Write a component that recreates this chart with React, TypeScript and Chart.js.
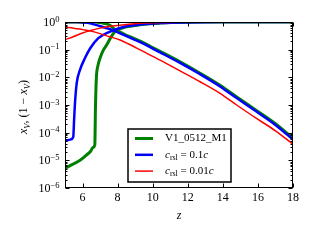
import React, { useEffect, useRef } from 'react';
import { Chart, registerables } from 'chart.js';

Chart.register(...registerables);

// ---------- data ----------
const xTickValues = [6, 8, 10, 12, 14, 16, 18];
const yMajorExponents = [-6, -5, -4, -3, -2, -1, 0];

const seriesLabels = ['V1_0512_M1', 'c_rsl = 0.1c', 'c_rsl = 0.01c'];
const seriesColors = ['#008000', '#0000ff', '#ff0000'];

// V1_0512_M1 : x_V (rising) and 1 - x_V (falling)
const greenRiseZ = [5.0, 5.4, 5.86, 6.2, 6.45, 6.6, 6.7, 6.74, 6.79, 6.87, 7.0, 7.2, 7.38, 7.6, 7.9, 8.14, 8.5, 8.8, 9.28, 9.85, 10.42, 11.0, 12.0, 13.0, 14.0, 16.0, 18.0];
const greenRise = [5.0e-6, 7.0e-6, 1.0e-5, 1.5e-5, 2.1e-5, 2.9e-5, 3.6e-5, 1.0e-3, 1.0e-2, 0.025, 0.05, 0.1, 0.15, 0.27, 0.5, 0.57, 0.67, 0.72, 0.8, 0.867, 0.913, 0.95, 0.98, 0.993, 0.997, 0.999, 1.0];
const greenFallZ = [5.0, 6.0, 6.7, 6.79, 6.87, 7.0, 7.2, 7.38, 7.6, 7.9, 8.14, 8.5, 8.8, 9.28, 9.85, 10.42, 11.56, 12.7, 13.84, 14.79, 15.83, 17.0, 18.0];
const greenFall = [1.0, 1.0, 1.0, 0.99, 0.975, 0.95, 0.9, 0.85, 0.73, 0.5, 0.43, 0.33, 0.28, 0.204, 0.133, 0.087, 0.0363, 0.0141, 0.00513, 0.00195, 0.00069, 0.000209, 0.0000617];

// c_rsl = 0.1c
const blueRiseZ = [5.0, 5.3, 5.47, 5.52, 5.57, 5.67, 5.86, 6.14, 6.43, 6.9, 7.57, 8.14, 8.7, 9.28, 10.42, 11.56, 12.7, 14.0, 16.0, 18.0];
const blueRise = [5.0e-5, 5.6e-5, 7.0e-5, 3.0e-4, 1.2e-3, 6.3e-3, 0.019, 0.05, 0.11, 0.26, 0.45, 0.61, 0.73, 0.814, 0.92, 0.967, 0.987, 0.996, 0.999, 1.0];
const blueFallZ = [5.0, 5.5, 5.67, 5.86, 6.14, 6.43, 6.9, 7.57, 8.14, 8.7, 9.28, 10.42, 11.56, 12.7, 13.84, 14.79, 15.83, 17.0, 18.0];
const blueFall = [1.0, 0.9999, 0.994, 0.981, 0.95, 0.89, 0.74, 0.55, 0.39, 0.27, 0.186, 0.0794, 0.0331, 0.0129, 0.00468, 0.00178, 0.00063, 0.000191, 0.0000562];

// c_rsl = 0.01c
const redRiseZ = [5.0, 5.5, 6.0, 6.4, 7.0, 7.5, 8.14, 8.8, 9.28, 10.42, 11.56, 12.7, 14.0, 16.0, 18.0];
const redRise = [0.23, 0.3, 0.4, 0.48, 0.6, 0.69, 0.77, 0.85, 0.9, 0.958, 0.983, 0.993, 0.997, 0.9996, 1.0];
const redFallZ = [5.0, 5.5, 6.0, 6.4, 7.0, 7.5, 8.14, 8.8, 9.28, 10.42, 11.56, 12.7, 13.84, 14.79, 15.83, 17.0, 18.0];
const redFall = [0.65, 0.6, 0.53, 0.48, 0.38, 0.3, 0.224, 0.141, 0.0977, 0.0417, 0.017, 0.00692, 0.00263, 0.001, 0.000355, 0.000117, 0.000038];

// ---------- styling ----------
const SERIF = '"Liberation Serif", "DejaVu Serif", serif';
const lineWidths = [3, 2.5, 1.5];

type Seg = { t: string; italic?: boolean; sub?: boolean };

const yTitleSegs: Seg[] = [
  { t: 'x', italic: true },
  { t: 'V', italic: true, sub: true },
  { t: ', (1 \u2212 ' },
  { t: 'x', italic: true },
  { t: 'V', italic: true, sub: true },
  { t: ')' },
];

function richSegments(label: string): Seg[] {
  const m = label.match(/^c_rsl(.*)c$/);
  if (m) {
    return [
      { t: 'c', italic: true },
      { t: 'rsl', sub: true },
      { t: m[1] },
      { t: 'c', italic: true },
    ];
  }
  return [{ t: label }];
}

function richWidth(ctx: CanvasRenderingContext2D, segs: Seg[], size: number) {
  let w = 0;
  for (const s of segs) {
    const fs = s.sub ? size * 0.72 : size;
    ctx.font = `${s.italic ? 'italic ' : ''}${fs}px ${SERIF}`;
    w += ctx.measureText(s.t).width;
  }
  return w;
}

function drawRich(ctx: CanvasRenderingContext2D, segs: Seg[], x: number, y: number, size: number) {
  let cx = x;
  for (const s of segs) {
    const fs = s.sub ? size * 0.72 : size;
    ctx.font = `${s.italic ? 'italic ' : ''}${fs}px ${SERIF}`;
    ctx.fillText(s.t, cx, y + (s.sub ? size * 0.3 : 0));
    cx += ctx.measureText(s.t).width;
  }
}

function pts(zs: number[], vs: number[]) {
  return zs.map((z, i) => ({ x: z, y: vs[i] }));
}

function isPow10(v: number) {
  const e = Math.log10(v);
  return Math.abs(e - Math.round(e)) < 1e-9;
}

const decorPlugin = {
  id: 'decor',
  afterDatasetsDraw(chart: any) {
    const ctx: CanvasRenderingContext2D = chart.ctx;
    const a = chart.chartArea;
    const xs = chart.scales.x;
    const ys = chart.scales.y;
    const L = Math.round(a.left) + 0.5;
    const T = Math.round(a.top) + 0.5;
    const R = Math.round(a.right) - 0.5;
    const B = Math.round(a.bottom) - 0.5;
    ctx.save();
    ctx.strokeStyle = '#000';
    ctx.fillStyle = '#000';
    ctx.lineWidth = 1;
    ctx.beginPath();
    for (const v of xTickValues) {
      const px = Math.round(xs.getPixelForValue(v)) + 0.5;
      ctx.moveTo(px, B);
      ctx.lineTo(px, B - 4);
      ctx.moveTo(px, T);
      ctx.lineTo(px, T + 4);
    }
    for (const t of ys.ticks) {
      const py = Math.round(ys.getPixelForValue(t.value)) + 0.5;
      const len = isPow10(t.value) ? 4 : 2;
      ctx.moveTo(L, py);
      ctx.lineTo(L + len, py);
      ctx.moveTo(R, py);
      ctx.lineTo(R - len, py);
    }
    ctx.stroke();
    ctx.strokeRect(L, T, R - L, B - T);

    // y tick labels 10^e
    ctx.textBaseline = 'alphabetic';
    ctx.textAlign = 'left';
    for (const e of yMajorExponents) {
      const py = ys.getPixelForValue(Math.pow(10, e));
      const base = '10';
      const ex = e < 0 ? '\u2212' + Math.abs(e) : String(e);
      ctx.font = `12px ${SERIF}`;
      const w1 = ctx.measureText(base).width;
      ctx.font = `8.5px ${SERIF}`;
      const w2 = ctx.measureText(ex).width;
      const right = a.left - 5.5;
      const x0 = right - w1 - w2;
      ctx.font = `12px ${SERIF}`;
      ctx.fillText(base, x0, py + 4);
      ctx.font = `8.5px ${SERIF}`;
      ctx.fillText(ex, x0 + w1, py - 0.5);
    }

    // x title
    ctx.textAlign = 'center';
    ctx.textBaseline = 'middle';
    ctx.font = `italic 12px ${SERIF}`;
    ctx.fillText('z', (a.left + a.right) / 2, a.bottom + 28);

    // y title (rotated)
    ctx.save();
    ctx.translate(24, (a.top + a.bottom) / 2 + 2);
    ctx.rotate(-Math.PI / 2);
    ctx.textAlign = 'left';
    ctx.textBaseline = 'middle';
    const tw = richWidth(ctx, yTitleSegs, 12);
    drawRich(ctx, yTitleSegs, -tw / 2, 0, 12);
    ctx.restore();

    // legend
    const bx = a.left + 63;
    const by = a.top + 107;
    const bw = 103;
    const bh = 53;
    ctx.fillStyle = '#fff';
    ctx.fillRect(bx, by, bw, bh);
    ctx.strokeStyle = '#000';
    ctx.lineWidth = 1.5;
    ctx.strokeRect(bx, by, bw, bh);
    ctx.textAlign = 'left';
    ctx.textBaseline = 'middle';
    seriesLabels.forEach((lab, i) => {
      const ry = by + 9.5 + i * 16.3;
      ctx.strokeStyle = seriesColors[i];
      ctx.lineWidth = lineWidths[i];
      ctx.beginPath();
      ctx.moveTo(bx + 7, ry);
      ctx.lineTo(bx + 25, ry);
      ctx.stroke();
      ctx.fillStyle = '#000';
      drawRich(ctx, richSegments(lab), bx + 37, ry, 11);
    });
    ctx.restore();
  },
};

export default function App() {
  const ref = useRef<HTMLCanvasElement>(null);
  useEffect(() => {
    document.body.style.margin = '0';
    const canvas = ref.current;
    if (!canvas) return;
    const riseZ = [greenRiseZ, blueRiseZ, redRiseZ];
    const rise = [greenRise, blueRise, redRise];
    const fallZ = [greenFallZ, blueFallZ, redFallZ];
    const fall = [greenFall, blueFall, redFall];
    const datasets: any[] = [];
    for (let i = 0; i < 3; i++) {
      for (const [zs, vs, suffix] of [
        [riseZ[i], rise[i], ' x_V'],
        [fallZ[i], fall[i], ' (1-x_V)'],
      ] as [number[], number[], string][]) {
        datasets.push({
          label: seriesLabels[i] + suffix,
          data: pts(zs, vs),
          borderColor: seriesColors[i],
          backgroundColor: seriesColors[i],
          borderWidth: lineWidths[i],
          borderJoinStyle: 'round',
          pointRadius: 0,
          fill: false,
          cubicInterpolationMode: 'monotone',
          order: 2 - i,
        });
      }
    }
    const chart = new Chart(canvas, {
      type: 'line',
      data: { datasets },
      plugins: [decorPlugin],
      options: {
        animation: false,
        responsive: false,
        maintainAspectRatio: false,
        devicePixelRatio: 1,
        layout: { padding: { left: 0, right: 25, top: 22, bottom: 0 } },
        plugins: { legend: { display: false }, tooltip: { enabled: false } },
        scales: {
          x: {
            type: 'linear',
            min: 5,
            max: 18,
            grid: { display: false, drawTicks: false },
            border: { display: false },
            ticks: {
              color: '#000',
              font: { family: SERIF, size: 12 },
              padding: 3,
              autoSkip: false,
              maxRotation: 0,
              minRotation: 0,
            },
            afterBuildTicks: (s: any) => {
              s.ticks = xTickValues.map((v) => ({ value: v }));
            },
            afterFit: (s: any) => {
              s.height = 52;
            },
          },
          y: {
            type: 'logarithmic',
            min: 1e-6,
            max: 1,
            grid: { display: false, drawTicks: false },
            border: { display: false },
            ticks: { display: false },
            afterBuildTicks: (s: any) => {
              const t: any[] = [];
              for (const e of yMajorExponents) {
                for (let m = 1; m <= 9; m++) {
                  const v = m * Math.pow(10, e);
                  if (v <= 1 + 1e-12) t.push({ value: v, major: m === 1 });
                }
              }
              s.ticks = t;
            },
            afterFit: (s: any) => {
              s.width = 65;
            },
          },
        },
      },
    });
    return () => chart.destroy();
  }, []);
  return (
    <div style={{ width: 318, height: 240 }}>
      <canvas ref={ref} width={318} height={240} style={{ display: 'block', width: 318, height: 240 }} />
    </div>
  );
}
